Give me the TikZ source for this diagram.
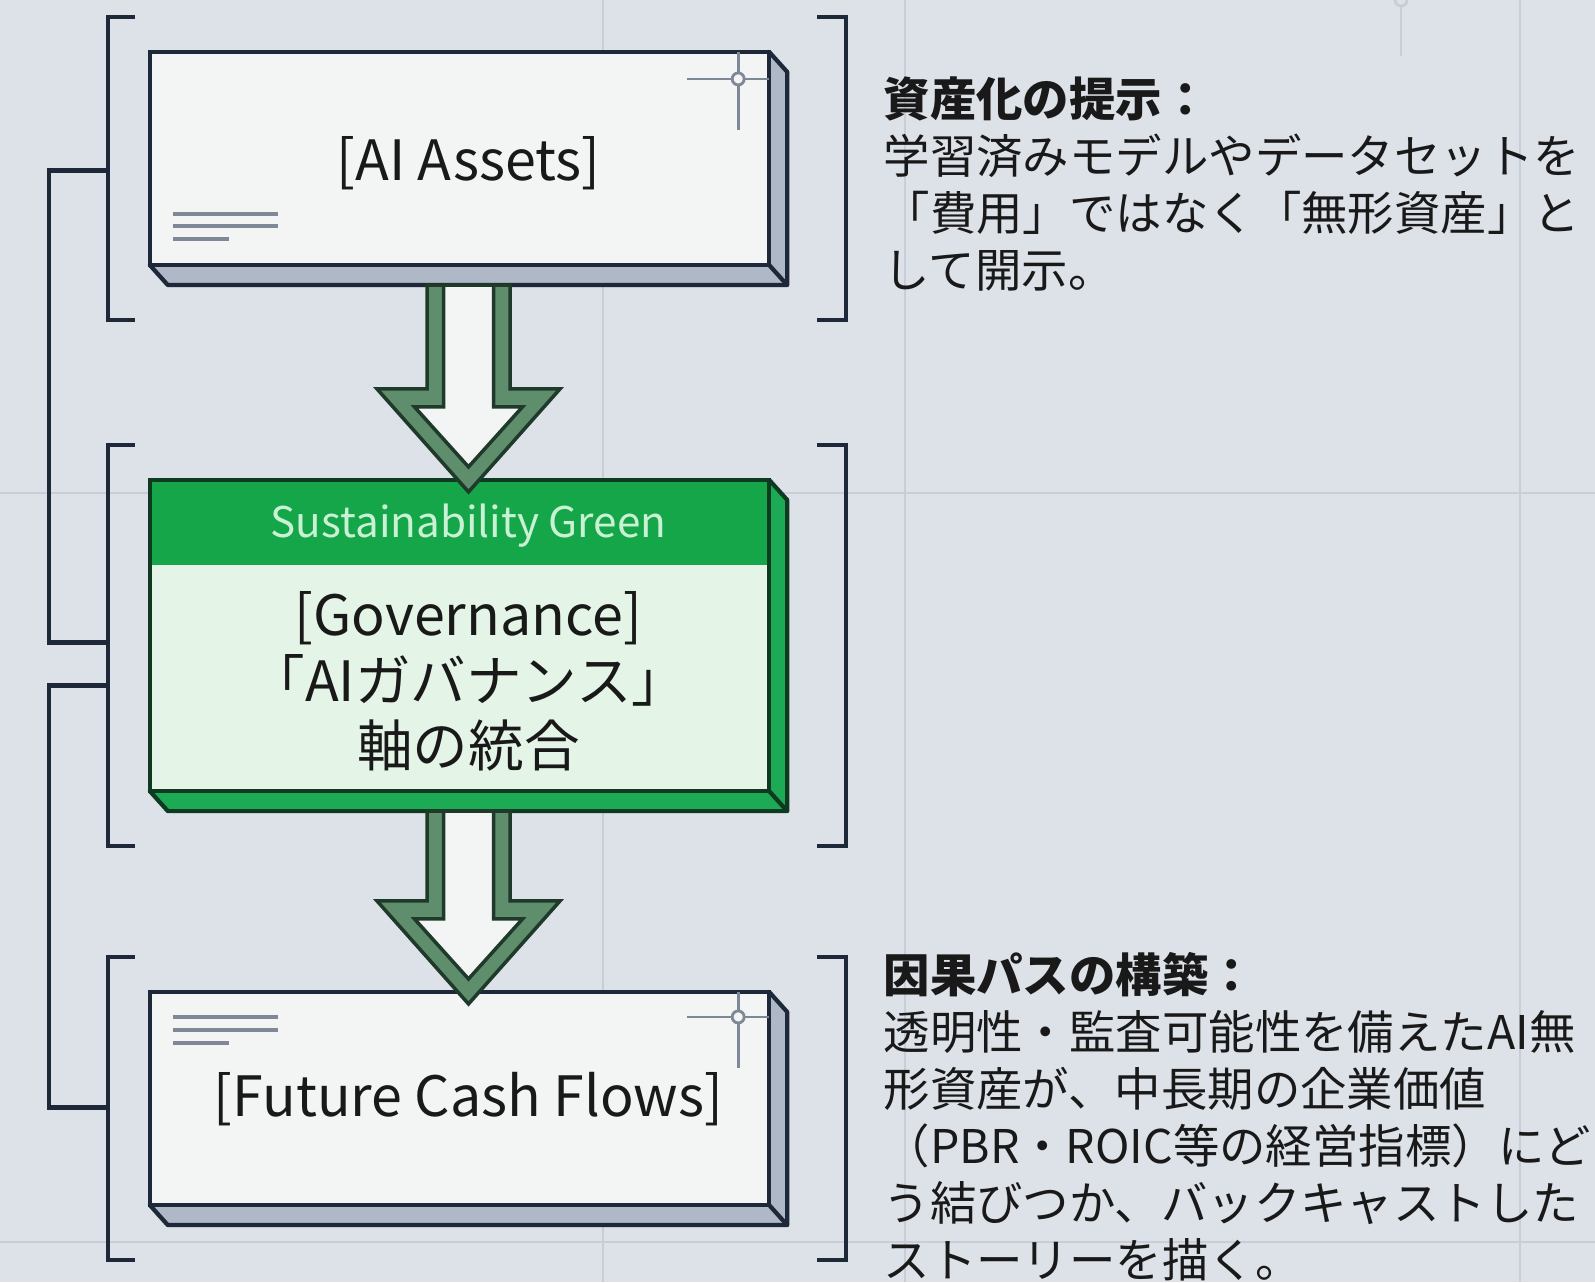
\documentclass[tikz,border=0pt]{standalone}
\usepackage{fontspec}
\setmainfont{Noto Sans CJK JP}
\usepackage{tikz}
\usetikzlibrary{calc}

\definecolor{paper}{HTML}{DDE1E8}
\definecolor{gridline}{HTML}{C8CDD6}
\definecolor{ink}{HTML}{1D2838}
\definecolor{face}{HTML}{F3F4F4}
\definecolor{side}{HTML}{AEB8C6}
\definecolor{govhead}{HTML}{16A64A}
\definecolor{govface}{HTML}{E4F5E8}
\definecolor{govside}{HTML}{1DAA55}
\definecolor{govink}{HTML}{0F3A22}
\definecolor{headtext}{HTML}{C9F2D4}
\definecolor{rim}{HTML}{5E8E6C}
\definecolor{rimink}{HTML}{1F3A2A}
\definecolor{deco}{HTML}{7F8896}

\tikzset{
  block/.style={minimum width=6.37cm, inner sep=0pt, outer sep=0pt},
  bracket/.style={draw=ink, line width=1.2pt},
  link/.style={draw=ink, line width=1.2pt},
  boxtitle/.style={font=\fontsize{15.8}{18.7}\selectfont, text=black!90, align=center, inner sep=0pt},
  headtitle/.style={font=\fontsize{12}{14}\selectfont, text=headtext, inner sep=0pt},
  note/.style={font=\fontsize{13.2}{16.2}\selectfont, text=black!90, align=left, inner sep=0pt, anchor=north west},
  arrowrim/.style={fill=rim, draw=rimink, line width=1pt, line join=miter},
  arrowcore/.style={fill=face, draw=rimink, line width=1pt, line join=miter},
}

% 3d slab: front face plus extruded side
\newcommand{\slab}[4]{%
  \filldraw[fill=#3, draw=#4, line width=1.2pt, line join=round]
    ($(#1.north east)+(-18,0)$) -- ($(#1.north east)+(0,20)$) -- (#1.south east)
    -- ($(#1.south west)+(18,0)$) -- ($(#1.south west)+(0,-20)$) -- cycle;
  \draw[draw=#4, line width=1.2pt] ($(#1.south east)+(-18,-20)$) -- (#1.south east);
  \filldraw[fill=#2, draw=#4, line width=1.2pt] (#1.north west) rectangle ($(#1.south east)+(-18,-20)$);
}
% hollow block arrow between two slabs
\newcommand{\flow}[2]{%
  \coordinate (s) at (#1.south);
  \coordinate (t) at ($(#2.north)+(0,12)$);
  \filldraw[arrowrim] ($(s)+(-41.5,0)$) |- ($(t)+(-91.5,-103)$) -- (t)
    -- ($(t)+(91.5,-103)$) -- ($(t)+(41.5,-103)$) |- ($(s)+(41.5,0)$) -- cycle;
  \filldraw[arrowcore] ($(s)+(-25,0)$) |- ($(t)+(-54,-85)$) -- ($(t)+(0,-25)$)
    -- ($(t)+(54,-85)$) -- ($(t)+(25,-85)$) |- ($(s)+(25,0)$) -- cycle;
}
% square brackets round a slab
\newcommand{\brackets}[1]{%
  \draw[bracket] ($(#1.north west)+(-15,-35)$) -- ++(-27,0) |- ($(#1.south west)+(-15,35)$);
  \draw[bracket] ($(#1.north east)+(30,-35)$) -- ++(29,0) |- ($(#1.south east)+(30,35)$);
}
\newcommand{\crosshair}[2]{%
  \draw[deco, line width=0.8pt] ($(#1.north east)+(-100,#2)$) -- ($(#1.north east)+(-18,#2)$);
  \draw[deco, line width=0.8pt] ($(#1.north east)+(-49,0)$) -- ($(#1.north east)+(-49,#2+51)$);
  \filldraw[fill=face, draw=deco, line width=0.8pt] ($(#1.north east)+(-49,#2)$) circle (6);
}

\begin{document}
\begin{tikzpicture}[x=0.01cm, y=-0.01cm]
  \useasboundingbox (0,0) rectangle (1595,1282);
  \fill[paper] (0,0) rectangle (1595,1282);
  % background grid
  \foreach \gx in {603,905,1520}
    \draw[gridline, line width=0.8pt] (\gx,0) -- (\gx,1282);
  \foreach \gy in {493,1242}
    \draw[gridline, line width=0.8pt] (0,\gy) -- (1595,\gy);
  \draw[gridline, line width=0.8pt] (1401,6) -- (1401,56);
  \draw[gridline, line width=0.8pt] (1401,0) circle (6);

  \node[block, minimum height=2.33cm] (assets) at (468.5,168.5) {};
  \node[block, minimum height=3.31cm] (gov) at (468.5,645.5) {};
  \node[block, minimum height=2.33cm] (cash) at (468.5,1108.5) {};

  \brackets{assets}
  \brackets{gov}
  \brackets{cash}

  % side links
  \coordinate (a-l) at ($(assets.west)+(-42,2)$);
  \coordinate (g-l1) at ($(gov.west)+(-42,-3)$);
  \coordinate (g-l2) at ($(gov.west)+(-42,40)$);
  \coordinate (c-l) at ($(cash.west)+(-42,-1)$);
  \draw[link] (a-l) -- ++(-59,0) |- (g-l1);
  \draw[link] (g-l2) -- ++(-59,0) |- (c-l);

  \slab{assets}{face}{side}{ink}
  \slab{gov}{govface}{govside}{govink}
  \fill[govhead] (gov.north west) rectangle ($(gov.north east)+(-18,85)$);
  \draw[govink, line width=1.2pt] (gov.north west) rectangle ($(gov.south east)+(-18,-20)$);
  \slab{cash}{face}{side}{ink}

  \crosshair{assets}{27}
  \crosshair{cash}{25}
  \foreach \dy/\len in {-71/128,-59/128,-46/79}
    \draw[deco, line width=1pt] ($(assets.south west)+(23,\dy)$) -- ++(\len-23,0);
  \foreach \dy/\len in {25/128,38/128,51/79}
    \draw[deco, line width=1pt] ($(cash.north west)+(23,\dy)$) -- ++(\len-23,0);

  \flow{assets}{gov}
  \flow{gov}{cash}

  \node[boxtitle] (assets-t) at ($(assets)+(0,-5)$) {[AI Assets]};
  \node[headtitle] (gov-h) at ($(gov)+(0,-120)$) {Sustainability Green};
  \node[boxtitle] (gov-t) at ($(gov)+(0,36)$) {[Governance]\\「AIガバナンス」\\軸の統合};
  \node[boxtitle] (cash-t) at ($(cash)+(0,-9)$) {[Future Cash Flows]};

  \node[note] (assets-n) at (883,76) {\textbf{資産化の提示：}\\学習済みモデルやデータセットを\\「費用」ではなく「無形資産」と\\して開示。};
  \node[note] (cash-n) at (883,952) {\textbf{因果パスの構築：}\\透明性・監査可能性を備えたAI無\\形資産が、中長期の企業価値\\（PBR・ROIC等の経営指標）にど\\う結びつか、バックキャストした\\ストーリーを描く。};
\end{tikzpicture}
\end{document}
